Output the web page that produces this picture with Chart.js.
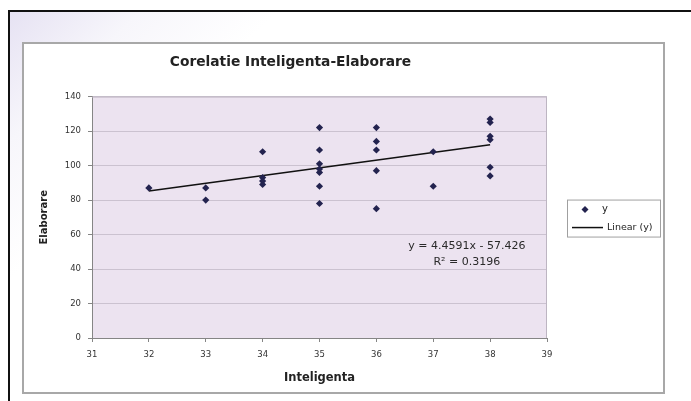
<!DOCTYPE html>
<html>
<head>
<meta charset="utf-8">
<script src="https://cdn.jsdelivr.net/npm/chart.js@4/dist/chart.umd.min.js"></script>
<style>
  html, body { margin: 0; padding: 0; background: #ffffff; }
  #page { position: relative; width: 691px; height: 401px; overflow: hidden; background: #ffffff; }
  #sheet {
    position: absolute; left: 8px; top: 10px; right: 0; bottom: 0;
    border-top: 2px solid #111; border-left: 2px solid #111;
    background: linear-gradient(135deg, #e6e2f3 0%, #f7f6fb 12%, #ffffff 25%);
  }
  #frame {
    position: absolute; left: 22px; top: 42px; width: 643px; height: 352px;
    box-sizing: border-box; border: 2px solid #a8a8a8; background: #ffffff;
  }
  #chart { position: absolute; left: 0; top: 0; }
</style>
</head>
<body>
<div id="page">
  <div id="sheet"></div>
  <div id="frame"></div>
  <canvas id="chart" width="691" height="401"></canvas>
</div>
<script>
// Observations: intelligence score (x) and elaboration score (y)
const inteligenta = [32, 33, 33, 34, 34, 34, 34, 35, 35, 35, 35, 35, 35, 35,
                     36, 36, 36, 36, 36, 37, 37, 38, 38, 38, 38, 38, 38];
const elaborare   = [87, 87, 80, 108, 93, 91, 89, 122, 109, 101, 98, 96, 88, 78,
                     122, 114, 109, 97, 75, 108, 88, 127, 125, 117, 115, 99, 94];

// Linear trend reported on the chart
const trendSlope = 4.4591;
const trendIntercept = -57.426;
const rSquared = 0.3196;

// Axis ranges
const xTicks = [31, 32, 33, 34, 35, 36, 37, 38, 39];
const yTicks = [0, 20, 40, 60, 80, 100, 120, 140];

const scatterPoints = inteligenta.map((x, i) => ({ x: x, y: elaborare[i] }));
const xMin = Math.min(...inteligenta);
const xMax = Math.max(...inteligenta);
const trendPoints = [xMin, xMax].map(x => ({ x: x, y: trendSlope * x + trendIntercept }));

const fmt = (v, d) => v.toFixed(d);
const eqText = 'y = ' + fmt(trendSlope, 4) + 'x - ' + fmt(Math.abs(trendIntercept), 3);
const r2Text = 'R\u00B2 = ' + fmt(rSquared, 4);

const FONT = '"DejaVu Sans", "Liberation Sans", Arial, sans-serif';
const POINT_COLOR = '#23234f';

// Lavender plot background plus a thin frame on the top and right edges
const plotBackground = {
  id: 'plotBackground',
  beforeDraw(chart) {
    const { ctx, chartArea: a } = chart;
    ctx.save();
    ctx.fillStyle = '#ece3f0';
    ctx.fillRect(a.left, a.top, a.right - a.left, a.bottom - a.top);
    ctx.restore();
  },
  afterDatasetsDraw(chart) {
    const { ctx, chartArea: a } = chart;
    ctx.save();
    ctx.strokeStyle = '#bdb5c2';
    ctx.lineWidth = 1;
    ctx.beginPath();
    ctx.moveTo(a.left, a.top + 0.5);
    ctx.lineTo(a.right - 0.5, a.top + 0.5);
    ctx.lineTo(a.right - 0.5, a.bottom);
    ctx.stroke();
    ctx.restore();
  }
};

// Regression equation label, anchored in data coordinates
const trendLabel = {
  id: 'trendLabel',
  afterDatasetsDraw(chart) {
    const { ctx, scales: { x, y } } = chart;
    ctx.save();
    ctx.fillStyle = '#2a2a2a';
    ctx.font = '11px ' + FONT;
    ctx.textAlign = 'center';
    ctx.textBaseline = 'middle';
    ctx.fillText(eqText, x.getPixelForValue(37.59), y.getPixelForValue(53.4));
    ctx.fillText(r2Text, x.getPixelForValue(37.59), y.getPixelForValue(44.0));
    ctx.restore();
  }
};

// Boxed legend to the right of the plot
const sideLegend = {
  id: 'sideLegend',
  afterDraw(chart) {
    const { ctx, chartArea: a } = chart;
    const left = a.right + 20, top = a.top + 103, w = 93, h = 37;
    ctx.save();
    ctx.fillStyle = '#ffffff';
    ctx.fillRect(left, top, w, h);
    ctx.strokeStyle = '#a0a0a0';
    ctx.lineWidth = 1;
    ctx.strokeRect(left + 0.5, top + 0.5, w, h);
    // scatter entry
    const my = top + 10;
    ctx.fillStyle = POINT_COLOR;
    ctx.beginPath();
    ctx.moveTo(left + 18, my - 3.5);
    ctx.lineTo(left + 21.5, my);
    ctx.lineTo(left + 18, my + 3.5);
    ctx.lineTo(left + 14.5, my);
    ctx.closePath();
    ctx.fill();
    ctx.fillStyle = '#222';
    ctx.font = '10px ' + FONT;
    ctx.textBaseline = 'middle';
    ctx.textAlign = 'left';
    ctx.fillText('y', left + 35, my);
    // trend entry
    const ly = top + 28;
    ctx.strokeStyle = '#111';
    ctx.lineWidth = 1.5;
    ctx.beginPath();
    ctx.moveTo(left + 5, ly);
    ctx.lineTo(left + 36, ly);
    ctx.stroke();
    ctx.font = '9.5px ' + FONT;
    ctx.fillText('Linear (y)', left + 40, ly);
    ctx.restore();
  }
};

new Chart(document.getElementById('chart'), {
  type: 'scatter',
  data: {
    datasets: [
      {
        label: 'y',
        data: scatterPoints,
        pointStyle: 'rectRot',
        pointRadius: 3.6,
        pointHoverRadius: 3.6,
        backgroundColor: POINT_COLOR,
        borderColor: POINT_COLOR,
        borderWidth: 0
      },
      {
        label: 'Linear (y)',
        type: 'line',
        data: trendPoints,
        showLine: true,
        pointRadius: 0,
        borderColor: '#111111',
        borderWidth: 1.6,
        fill: false
      }
    ]
  },
  options: {
    responsive: false,
    animation: false,
    devicePixelRatio: 1,
    layout: { padding: { left: 34, right: 144, top: 54, bottom: 12 } },
    plugins: {
      legend: { display: false },
      tooltip: { enabled: false },
      title: {
        display: true,
        text: 'Corelatie Inteligenta-Elaborare',
        color: '#222',
        font: { family: FONT, size: 13.8, weight: 'bold' },
        padding: { top: 0, bottom: 26 }
      }
    },
    scales: {
      x: {
        type: 'linear',
        min: xTicks[0],
        max: xTicks[xTicks.length - 1],
        afterBuildTicks(scale) { scale.ticks = xTicks.map(v => ({ value: v })); },
        afterFit(scale) { scale.height = 51; },
        border: { color: '#858585', width: 1 },
        grid: { drawOnChartArea: false, drawTicks: true, tickLength: 4, tickColor: '#858585' },
        ticks: { color: '#333', font: { family: FONT, size: 8.5 }, padding: 8, maxRotation: 0 },
        title: {
          display: true, text: 'Inteligenta', color: '#222',
          font: { family: FONT, size: 11.5, weight: 'bold' }, padding: { top: 4, bottom: 4 }
        }
      },
      y: {
        type: 'linear',
        min: yTicks[0],
        max: yTicks[yTicks.length - 1],
        afterBuildTicks(scale) { scale.ticks = yTicks.map(v => ({ value: v })); },
        afterFit(scale) { scale.width = 58; },
        border: { color: '#858585', width: 1 },
        grid: { color: '#cbc2d0', lineWidth: 1, drawTicks: true, tickLength: 4, tickColor: '#858585' },
        ticks: { color: '#333', font: { family: FONT, size: 8.5 }, padding: 7 },
        title: {
          display: true, text: 'Elaborare', color: '#222',
          font: { family: FONT, size: 10, weight: 'bold' }, padding: { top: 4, bottom: 4 }
        }
      }
    }
  },
  plugins: [plotBackground, trendLabel, sideLegend]
});
</script>
</body>
</html>
